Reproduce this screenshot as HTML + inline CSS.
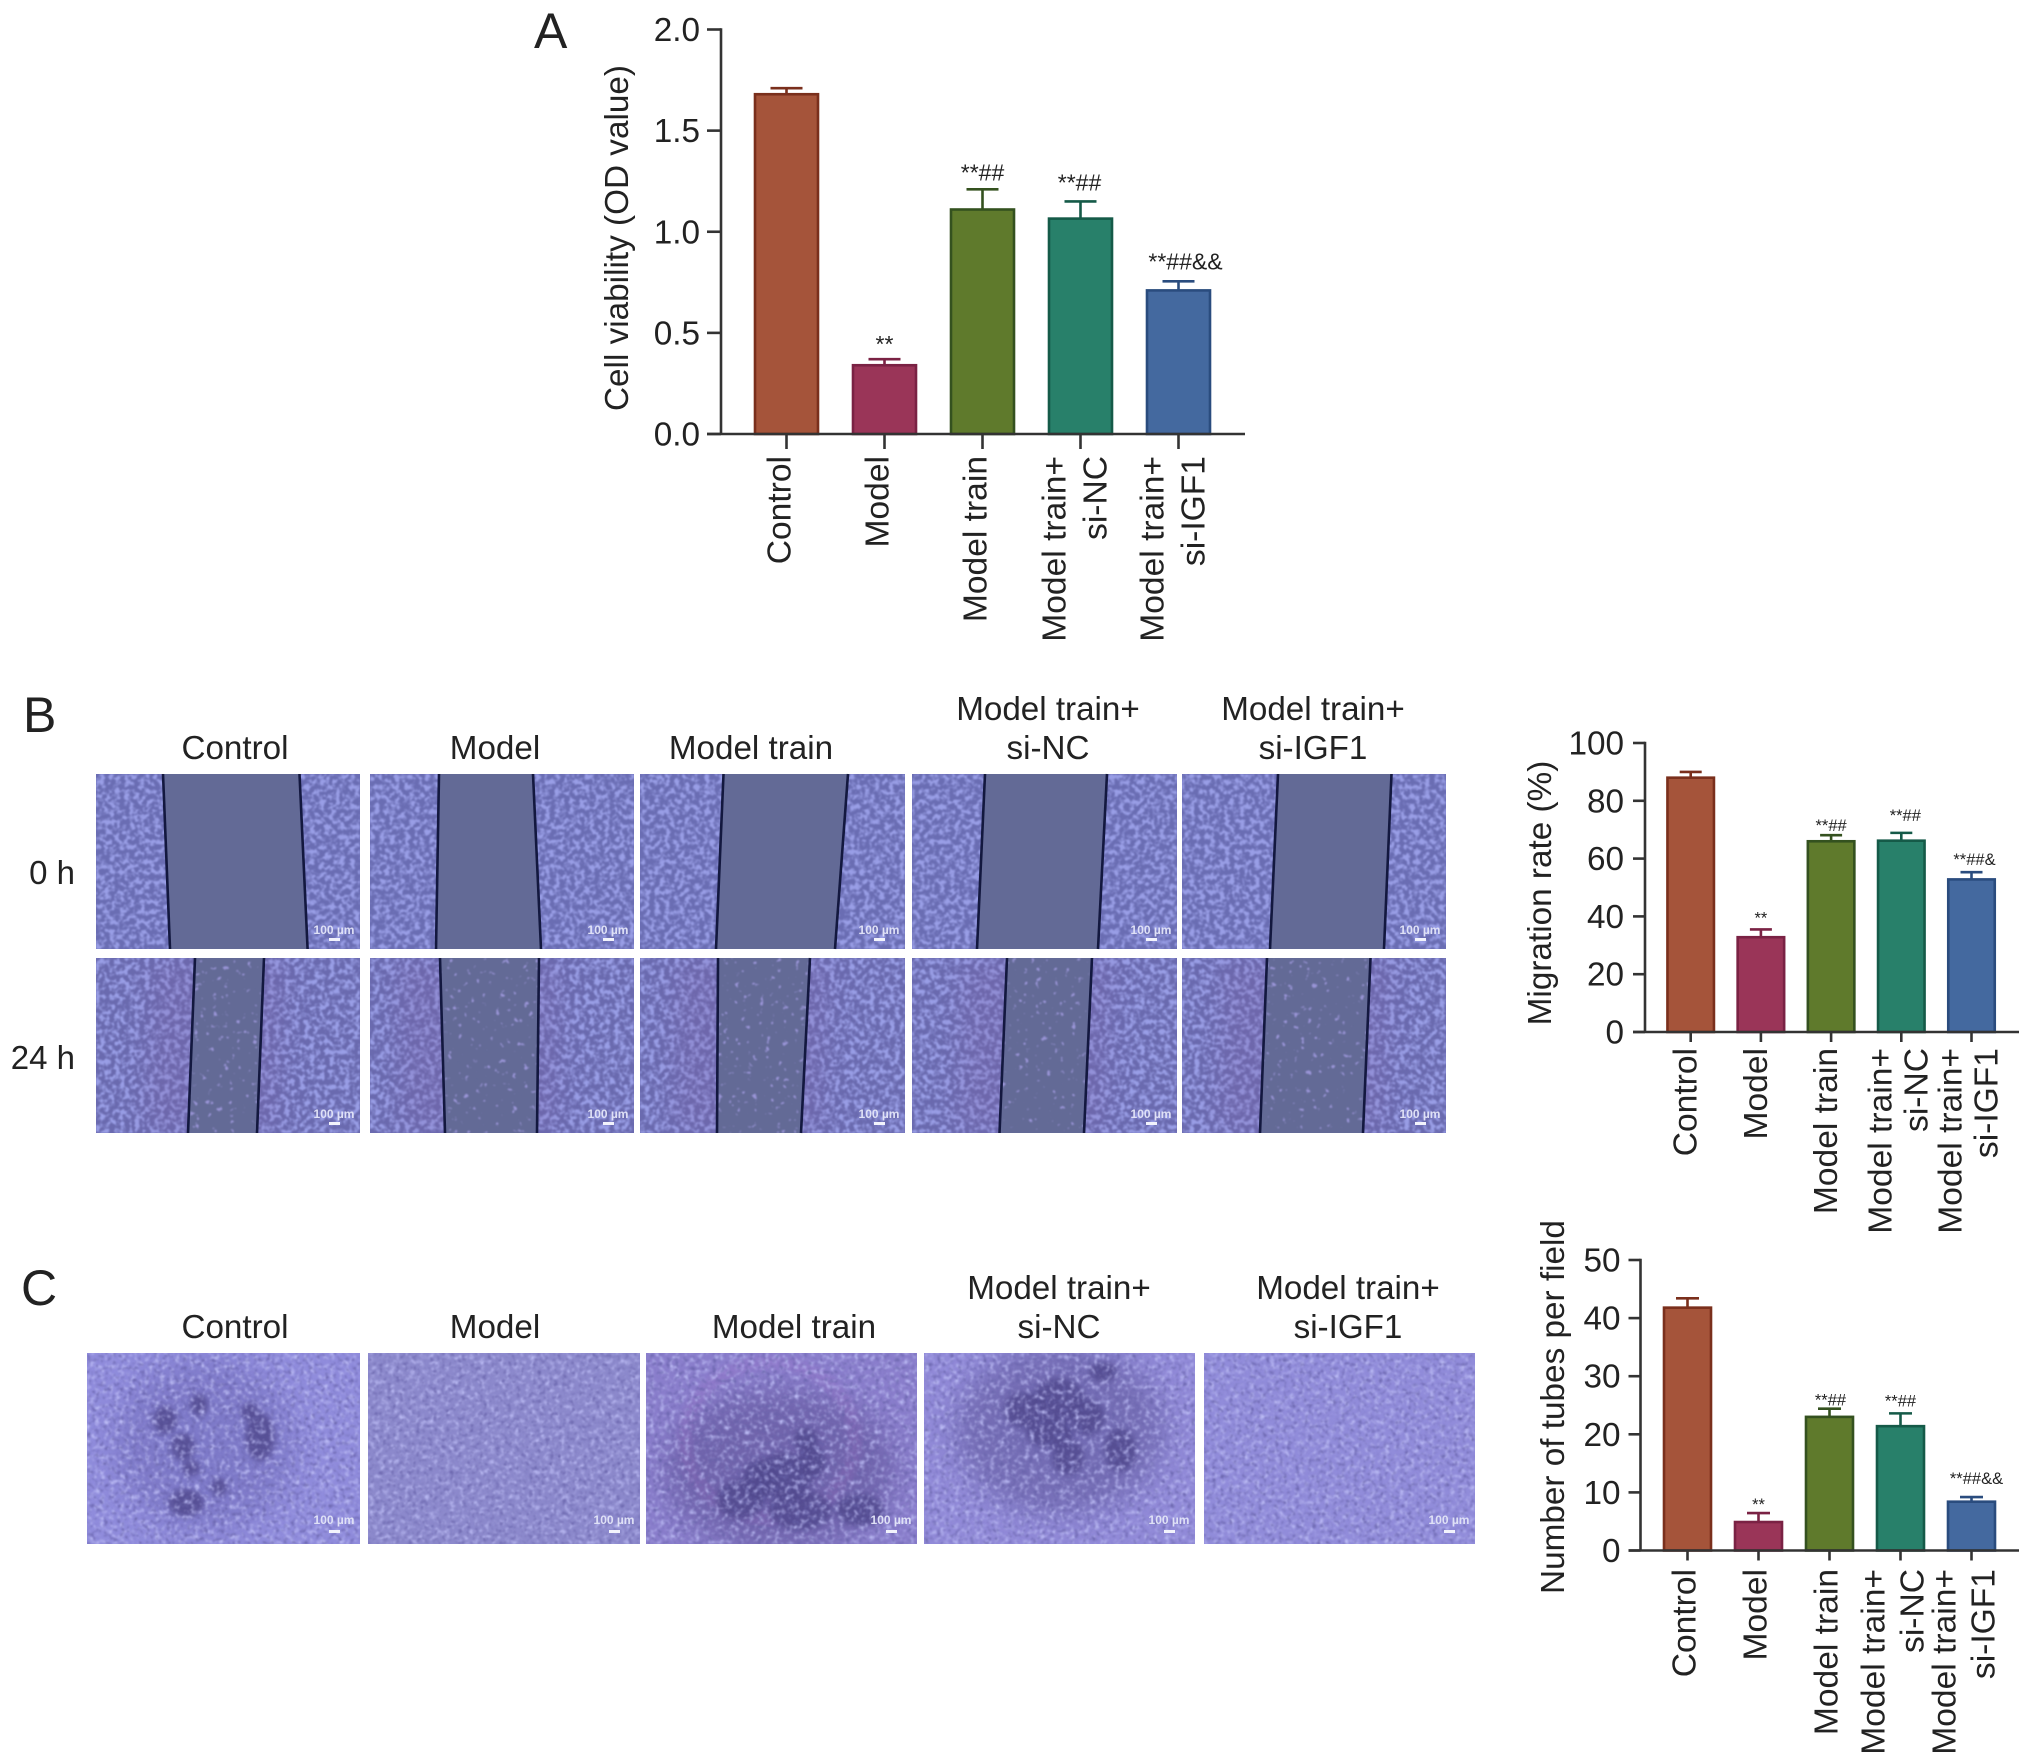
<!DOCTYPE html>
<html lang="en">
<head>
<meta charset="utf-8">
<title>Cell viability, migration and tube formation</title>
<style>
html,body{margin:0;padding:0;background:#fff;}
svg{display:block;}
text{font-family:"Liberation Sans",Arial,sans-serif;fill:#222;}
</style>
</head>
<body>
<svg id="figure" xmlns="http://www.w3.org/2000/svg" width="2032" height="1762" viewBox="0 0 2032 1762">
  <defs id="defs"></defs>
  <rect x="0" y="0" width="2032" height="1762" fill="#ffffff"/>
  <g id="micro"></g>
  <g id="charts"></g>

  <text x="534" y="48" font-size="50">A</text>
  <text x="23" y="732" font-size="50">B</text>
  <text x="21" y="1305" font-size="50">C</text>

  <g font-size="33.2" text-anchor="middle">
    <text x="235" y="759">Control</text>
    <text x="495" y="759">Model</text>
    <text x="751" y="759">Model train</text>
    <text x="1048" y="720">Model train+</text>
    <text x="1048" y="759">si-NC</text>
    <text x="1313" y="720">Model train+</text>
    <text x="1313" y="759">si-IGF1</text>
  </g>
  <g font-size="33" text-anchor="end">
    <text x="75" y="884">0 h</text>
    <text x="75" y="1069">24 h</text>
  </g>
  <g font-size="33.2" text-anchor="middle">
    <text x="235" y="1338">Control</text>
    <text x="495" y="1338">Model</text>
    <text x="794" y="1338">Model train</text>
    <text x="1059" y="1299">Model train+</text>
    <text x="1059" y="1338">si-NC</text>
    <text x="1348" y="1299">Model train+</text>
    <text x="1348" y="1338">si-IGF1</text>
  </g>
</svg>
<script>
// ---- chart data ----
const categoryLabels = ["Control", "Model", "Model train", "Model train+|si-NC", "Model train+|si-IGF1"];

const viabilityValues = [1.68, 0.34, 1.11, 1.065, 0.71];
const viabilityErrorTops = [1.71, 0.37, 1.21, 1.15, 0.755];
const viabilityTicks = ["0.0", "0.5", "1.0", "1.5", "2.0"];
const viabilityMarks = ["", "**", "**##", "**##", "**##&&"];

const migrationValues = [88, 32.8, 66, 66.2, 52.8];
const migrationErrorTops = [90, 35.5, 68.1, 68.9, 55.3];
const migrationTicks = ["0", "20", "40", "60", "80", "100"];
const migrationMarks = ["", "**", "**##", "**##", "**##&"];

const tubeValues = [41.8, 4.9, 23, 21.4, 8.4];
const tubeErrorTops = [43.4, 6.45, 24.4, 23.6, 9.2];
const tubeTicks = ["0", "10", "20", "30", "40", "50"];
const tubeMarks = ["", "**", "**##", "**##", "**##&&"];

const barFills = ["#a5543a", "#9a3558", "#5f7a2c", "#28806a", "#44699f"];
const barStrokes = ["#7a2f1c", "#7a2244", "#34511f", "#155a48", "#2a4c7e"];

const SVGNS = "http://www.w3.org/2000/svg";
function add(parent, tag, attrs, text) {
  const el = document.createElementNS(SVGNS, tag);
  for (const k in attrs) el.setAttribute(k, attrs[k]);
  if (text !== undefined) el.textContent = text;
  parent.appendChild(el);
  return el;
}

function drawChart(cfg) {
  const root = document.getElementById("charts");
  const g = add(root, "g", {});
  
  
  const maxV = parseFloat(cfg.ticks[cfg.ticks.length - 1]);
  const yScale = v => cfg.y0 - (v / maxV) * (cfg.y0 - cfg.yTop);
  const xScale = i => cfg.x0 + i * cfg.step;

  cfg.values.forEach((v, i) => {
    const cx = xScale(i);
    const stroke = barStrokes[i];
    const err = add(g, "path", {
      d: "M" + cx + " " + yScale(v) + "V" + yScale(cfg.errTops[i]) +
         "M" + (cx - cfg.cap) + " " + yScale(cfg.errTops[i]) + "H" + (cx + cfg.cap),
      fill: "none", stroke: stroke, "stroke-width": 2.6
    });
    
    
    const bar = add(g, "rect", {
      x: cx - cfg.barW / 2, y: yScale(v), width: cfg.barW, height: cfg.y0 - yScale(v),
      fill: barFills[i], stroke: stroke, "stroke-width": 2.6
    });
    
    
    if (cfg.marks[i]) {
      const mark = add(g, "text", {
        x: cx + (cfg.markDx[i] || 0), y: yScale(cfg.errTops[i]) - cfg.markGap[i],
        "font-size": cfg.markSize, "text-anchor": "middle"
      }, cfg.marks[i]);
      
      
    }
  });

  const yAxis = add(g, "line", {x1: cfg.axisX, x2: cfg.axisX, y1: cfg.yTop - 1.2, y2: cfg.y0,
    stroke: "#333", "stroke-width": 2.6});
  
  
  const xAxis = add(g, "line", {x1: cfg.axisX - cfg.tickY, x2: cfg.axisEnd, y1: cfg.y0, y2: cfg.y0,
    stroke: "#333", "stroke-width": 2.6});
  
  

  cfg.ticks.forEach(t => {
    const y = yScale(parseFloat(t));
    const tick = add(g, "line", {x1: cfg.axisX - cfg.tickY, x2: cfg.axisX, y1: y, y2: y,
      stroke: "#333", "stroke-width": 2.6});
    
    
    const lab = add(g, "text", {x: cfg.axisX - cfg.tickY - cfg.labelGap, y: y + 11.5,
      "font-size": 33.3, "text-anchor": "end"}, t);
    
    
  });

  categoryLabels.forEach((c, i) => {
    const cx = xScale(i);
    const tick = add(g, "line", {x1: cx, x2: cx, y1: cfg.y0, y2: cfg.y0 + cfg.tickX,
      stroke: "#333", "stroke-width": 2.6});
    
    
    const parts = c.split("|");
    parts.forEach((p, j) => {
      const off = parts.length === 1 ? cfg.singleOff : (j === 0 ? cfg.line1Off : cfg.line2Off);
      const lx = cx + off + 11;
      const lab = add(g, "text", {x: lx, y: cfg.labelY, "font-size": 33.6, "text-anchor": "end",
        transform: "rotate(-90 " + lx + " " + cfg.labelY + ")"}, p);
      
      
    });
  });

  const title = add(g, "text", {x: cfg.titleX, y: cfg.titleY, "font-size": 33.3, "text-anchor": "middle",
    transform: "rotate(-90 " + cfg.titleX + " " + cfg.titleY + ")"}, cfg.title);
  
  
}

drawChart({
  name: "cell-viability-chart", values: viabilityValues, errTops: viabilityErrorTops,
  ticks: viabilityTicks, marks: viabilityMarks, title: "Cell viability (OD value)",
  x0: 786.5, step: 98, barW: 63, cap: 16, y0: 434, yTop: 29.5, axisX: 721, axisEnd: 1245,
  tickY: 14, tickX: 15, labelGap: 7, labelY: 456, singleOff: -7, line1Off: -26, line2Off: 15,
  titleX: 628, titleY: 238, markSize: 23, markGap: [0, 7, 9, 11, 12], markDx: [0, 0, 0, -1, 7]
});
drawChart({
  name: "migration-rate-chart", values: migrationValues, errTops: migrationErrorTops,
  ticks: migrationTicks, marks: migrationMarks, title: "Migration rate (%)",
  x0: 1690.7, step: 70.2, barW: 46.5, cap: 11, y0: 1032, yTop: 743, axisX: 1645, axisEnd: 2019,
  tickY: 12, tickX: 10, labelGap: 9, labelY: 1048, singleOff: -5, line1Off: -21, line2Off: 15,
  titleX: 1551, titleY: 893, markSize: 16.5, markGap: [0, 6, 4, 12, 7], markDx: [0, 0, 0, 4, 3]
});
drawChart({
  name: "tubes-per-field-chart", values: tubeValues, errTops: tubeErrorTops,
  ticks: tubeTicks, marks: tubeMarks, title: "Number of tubes per field",
  x0: 1687.5, step: 71, barW: 47, cap: 11.5, y0: 1550.5, yTop: 1260, axisX: 1640.5, axisEnd: 2019,
  tickY: 12, tickX: 10, labelGap: 8, labelY: 1569, singleOff: -3, line1Off: -27, line2Off: 12,
  titleX: 1564, titleY: 1407, markSize: 16.5, markGap: [0, 3, 3, 7, 13], markDx: [0, 0, 1, 0, 5]
});

// ---- micrograph panels (procedural texture) ----
const defs = document.getElementById("defs");
let filterCount = 0;
function speckle(seed, freq, rgb, gain, offset, blur) {
  const id = "spk" + (filterCount++);
  const f = add(defs, "filter", {id: id, x: 0, y: 0, width: 1, height: 1,
    "color-interpolation-filters": "sRGB"});
  add(f, "feTurbulence", {type: "fractalNoise", baseFrequency: freq, numOctaves: 2, seed: seed, result: "n"});
  add(f, "feColorMatrix", {in: "n", type: "matrix", result: "c",
    values: "0 0 0 0 " + rgb[0] + " 0 0 0 0 " + rgb[1] + " 0 0 0 0 " + rgb[2] + " " + gain + " 0 0 0 " + offset});
  add(f, "feGaussianBlur", {in: "c", stdDeviation: blur, result: "b"});
  add(f, "feComposite", {in: "b", in2: "SourceAlpha", operator: "in"});
  return id;
}
add(defs, "filter", {id: "soft", x: "-30%", y: "-30%", width: "160%", height: "160%"})
  .appendChild(document.createElementNS(SVGNS, "feGaussianBlur")).setAttribute("stdDeviation", "3");
add(defs, "filter", {id: "softWide", x: "-30%", y: "-30%", width: "160%", height: "160%"})
  .appendChild(document.createElementNS(SVGNS, "feGaussianBlur")).setAttribute("stdDeviation", "14");

const micro = document.getElementById("micro");

function scaleMark(g, right, bottom, textDy, barDy) {
  const t = add(g, "text", {x: right - 26, y: bottom - textDy, "font-size": 12, "font-weight": "bold",
    "text-anchor": "middle", style: "fill:#dfe1f6"}, "100 µm");
  
  
  const b = add(g, "rect", {x: right - 31, y: bottom - barDy, width: 11, height: 3, fill: "#f2f3fc"});
  
  
}

const woundColumns = [[96, 360], [370, 634], [640, 905], [912, 1177], [1182, 1446]];
const woundRows = [[774, 949], [958, 1133]];
const woundLines = [
  [[163, 170, 299.5, 307.6], [439, 436, 533, 541], [723.5, 716, 848, 835], [985, 977, 1107, 1098], [1278, 1270, 1391.5, 1384]],
  [[195, 188, 264, 257], [440, 445, 539, 537], [718, 717, 810, 801], [1007, 999.5, 1092, 1084], [1267, 1260, 1370.5, 1363]]
];

woundRows.forEach((row, r) => {
  woundColumns.forEach((col, c) => {
    const g = add(micro, "g", {});
    
    
    const w = col[1] - col[0], h = row[1] - row[0];
    const base = {x: col[0], y: row[0], width: w, height: h};
    const clipId = "woundClip" + r + "-" + c;
    const clip = add(defs, "clipPath", {id: clipId});
    add(clip, "rect", base);
    add(g, "rect", Object.assign({fill: r === 0 ? "#6a6db3" : "#6a6aaf"}, base));
    add(g, "rect", Object.assign({fill: "#fff", filter: "url(#" +
      speckle(11 + r * 5 + c * 3, 0.2, [0.60, 0.62, 0.90], 4.4, -1.9, 0.8) + ")"}, base));
    const L = woundLines[r][c];
    if (r === 1) {
      const tint = add(g, "g", {"clip-path": "url(#" + clipId + ")"});
      add(tint, "polygon", {points: (L[0] - 45) + "," + row[0] + " " + (L[2] + 20) + "," + row[0] + " " +
        (L[3] + 20) + "," + row[1] + " " + (L[1] - 45) + "," + row[1],
        fill: "#7a60a4", opacity: 0.25, filter: "url(#softWide)"});
    }
    const pts = L[0] + "," + row[0] + " " + L[2] + "," + row[0] + " " + L[3] + "," + row[1] + " " + L[1] + "," + row[1];
    add(g, "polygon", {points: pts, fill: "#636a96"});
    if (r === 1) {
      add(g, "polygon", {points: pts, fill: "#fff", filter: "url(#" +
        speckle(40 + c * 7, 0.17, [0.60, 0.58, 0.84], 10, -6.7, 0.7) + ")"});
    }
    add(g, "line", {x1: L[0], y1: row[0], x2: L[1], y2: row[1], stroke: "#13183f", "stroke-width": 2.6});
    add(g, "line", {x1: L[2], y1: row[0], x2: L[3], y2: row[1], stroke: "#13183f", "stroke-width": 2.6});
    scaleMark(g, col[1], row[1], 15, 11);
  });
});

const tubeColumns = [[87, 360], [368, 640], [646, 917], [924, 1195], [1204, 1475]];
const tubeRow = [1353, 1544];
const tubeBase = ["#908cdc", "#8c89cc", "#8a7ecc", "#918ad8", "#918cda"];
const tubeBlobs = [
  [[199, 1405, 9, 11], [183, 1447, 12, 14], [260, 1437, 15, 24], [191, 1468, 9, 8], [219, 1487, 8, 9], [250, 1412, 9, 9], [186, 1503, 18, 14], [165, 1420, 12, 14]],
  [],
  [[784, 1477, 28, 24], [760, 1480, 18, 20], [812, 1462, 14, 16], [806, 1440, 12, 12], [740, 1500, 24, 20], [800, 1510, 32, 20], [860, 1510, 24, 16]],
  [[1059, 1400, 26, 22], [1050, 1432, 24, 16], [1068, 1457, 16, 18], [1088, 1417, 17, 18], [1103, 1372, 14, 10], [1024, 1410, 20, 18], [1120, 1450, 16, 22]],
  []
];

tubeColumns.forEach((col, c) => {
  const g = add(micro, "g", {});
  
  
  const base = {x: col[0], y: tubeRow[0], width: col[1] - col[0], height: tubeRow[1] - tubeRow[0]};
  add(g, "rect", Object.assign({fill: tubeBase[c]}, base));
  const clipId = "tubeClip" + c;
  const clip = add(defs, "clipPath", {id: clipId});
  add(clip, "rect", base);
  const blobs = add(g, "g", {"clip-path": "url(#" + clipId + ")"});
  if (c === 0) {
    add(blobs, "ellipse", {cx: 205, cy: 1445, rx: 90, ry: 85, fill: "#716cba", opacity: 0.55, filter: "url(#softWide)"});
  }
  if (c === 2) {
    add(blobs, "ellipse", {cx: 780, cy: 1470, rx: 115, ry: 80, fill: "#5f5398", opacity: 0.6, filter: "url(#softWide)"});
    add(blobs, "ellipse", {cx: 770, cy: 1440, rx: 85, ry: 78, fill: "none", stroke: "#b06cc8", "stroke-width": 14, opacity: 0.14, filter: "url(#soft)"});
  }
  if (c === 3) {
    add(blobs, "ellipse", {cx: 1060, cy: 1430, rx: 105, ry: 85, fill: "#625a9e", opacity: 0.6, filter: "url(#softWide)"});
  }
  tubeBlobs[c].forEach(b => {
    add(blobs, "ellipse", {cx: b[0], cy: b[1], rx: b[2], ry: b[3], fill: "#514a8e", opacity: 0.85,
      filter: "url(#soft)"});
  });
  add(g, "rect", Object.assign({fill: "#fff", filter: "url(#" +
    speckle(60 + c * 4, 0.2, [0.74, 0.74, 0.96], 2.6, -1.25, 0.7) + ")"}, base));
  add(g, "rect", Object.assign({fill: "#fff", filter: "url(#" +
    speckle(80 + c * 4, 0.24, [0.40, 0.38, 0.66], 2.6, -1.35, 0.7) + ")"}, base));
  scaleMark(g, col[1], tubeRow[1], 20, 14);
});
</script>
</body>
</html>
